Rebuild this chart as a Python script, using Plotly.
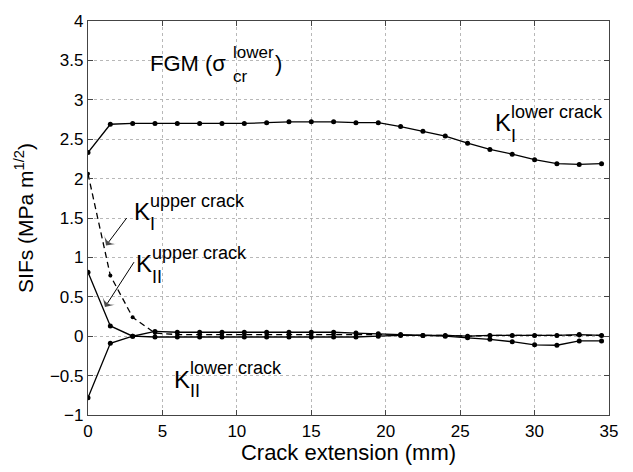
import plotly.graph_objects as go

# ---- data ----
crack_ext = [0, 1.5, 3, 4.5, 6, 7.5, 9, 10.5, 12, 13.5, 15, 16.5, 18, 19.5,
             21, 22.5, 24, 25.5, 27, 28.5, 30, 31.5, 33, 34.5]
ki_lower = [2.33, 2.69, 2.70, 2.70, 2.70, 2.70, 2.70, 2.70, 2.71, 2.72, 2.72, 2.72,
            2.71, 2.71, 2.66, 2.60, 2.54, 2.45, 2.37, 2.31, 2.24, 2.19, 2.18, 2.19]
ki_upper = [2.06, 0.77, 0.24, 0.04, 0.02, 0.02, 0.02, 0.02, 0.02, 0.02, 0.02, 0.02,
            0.02, 0.02, 0.01, 0.01, 0.01, 0.00, 0.01, 0.01, 0.01, 0.01, 0.01, 0.01]
kii_upper = [0.81, 0.13, 0.00, 0.06, 0.05, 0.05, 0.05, 0.05, 0.05, 0.05, 0.05, 0.05,
             0.04, 0.03, 0.02, 0.01, 0.00, -0.02, -0.04, -0.07, -0.11, -0.115, -0.06, -0.06]
kii_lower = [-0.78, -0.09, 0.00, -0.01, -0.01, -0.01, -0.01, -0.01, -0.01, -0.01, -0.01, -0.01,
             -0.01, 0.00, 0.01, 0.01, 0.01, 0.00, 0.01, 0.01, 0.01, 0.01, 0.02, 0.01]

x_ticks = [0, 5, 10, 15, 20, 25, 30, 35]
y_ticks = [-1, -0.5, 0, 0.5, 1, 1.5, 2, 2.5, 3, 3.5, 4]

FONT = "Liberation Sans, Arial, Helvetica, sans-serif"

fig = go.Figure()

def add(y, dash="solid", msize=5):
    fig.add_trace(go.Scatter(
        x=crack_ext, y=y, mode="lines+markers",
        line=dict(color="black", width=1.3, dash=dash),
        marker=dict(color="black", size=msize),
        showlegend=False, hoverinfo="skip"))

add(ki_lower)
add(kii_upper)
add(kii_lower)
add(ki_upper, dash="6px,4px", msize=4)

# leader arrows (tail -> tip), drawn as a line with an arrow marker at the tip
for (x0, y0, x1, y1) in [(2.60, 1.50, 1.21, 1.15), (3.09, 0.94, 1.14, 0.37)]:
    fig.add_trace(go.Scatter(
        x=[x0, x1], y=[y0, y1], mode="lines+markers",
        line=dict(color="black", width=1),
        marker=dict(symbol=["circle", "arrow-wide"], size=[0, 11], color="black",
                    angleref="previous", line=dict(width=0)),
        showlegend=False, hoverinfo="skip"))

ann = []

def txt(x, y, s, size):
    ann.append(dict(x=x, y=y, xref="x", yref="y", text=s, showarrow=False,
                    xanchor="left", yanchor="middle",
                    font=dict(family=FONT, size=size, color="black")))

def kl(xk, yk, xs, ysup, ysub, sup, sub):
    txt(xk, yk, "K", 24)
    txt(xs, ysup, sup, 18)
    txt(xs, ysub, sub, 18)

# title-like label
txt(4.0, 3.46, "FGM (σ", 22)
txt(9.6, 3.60, "lower", 17)
txt(9.6, 3.29, "cr", 17)
txt(12.4, 3.46, ")", 22)

kl(27.2, 2.71, 28.3, 2.84, 2.54, "lower crack", "I")
kl(2.95, 1.58, 4.0, 1.71, 1.42, "upper crack", "I")
kl(3.1, 0.92, 4.15, 1.05, 0.75, "upper crack", "II")
kl(5.65, -0.545, 6.75, -0.40, -0.69, "lower crack", "II")

axis_common = dict(
    showgrid=True, gridcolor="#b8b8b8", griddash="dot", gridwidth=1,
    showline=True, linecolor="#444444", linewidth=1.2, mirror="ticks",
    ticks="inside", ticklen=5, tickcolor="#444444",
    tickfont=dict(family=FONT, size=17, color="black"),
    zeroline=False,
)

fig.update_layout(
    width=633, height=472,
    margin=dict(l=88, r=24, t=12, b=50),
    paper_bgcolor="white", plot_bgcolor="white",
    annotations=ann,
    xaxis=dict(range=[0, 35], tickvals=x_ticks,
               title=dict(text="Crack extension (mm)", standoff=4,
                          font=dict(family=FONT, size=22, color="black")),
               **axis_common),
    yaxis=dict(range=[-1, 4], tickvals=y_ticks,
               title=dict(text="SIFs (MPa m<sup>1/2</sup>)", standoff=10,
                          font=dict(family=FONT, size=21, color="black")),
               **axis_common),
)

fig.write_html("out.html")
